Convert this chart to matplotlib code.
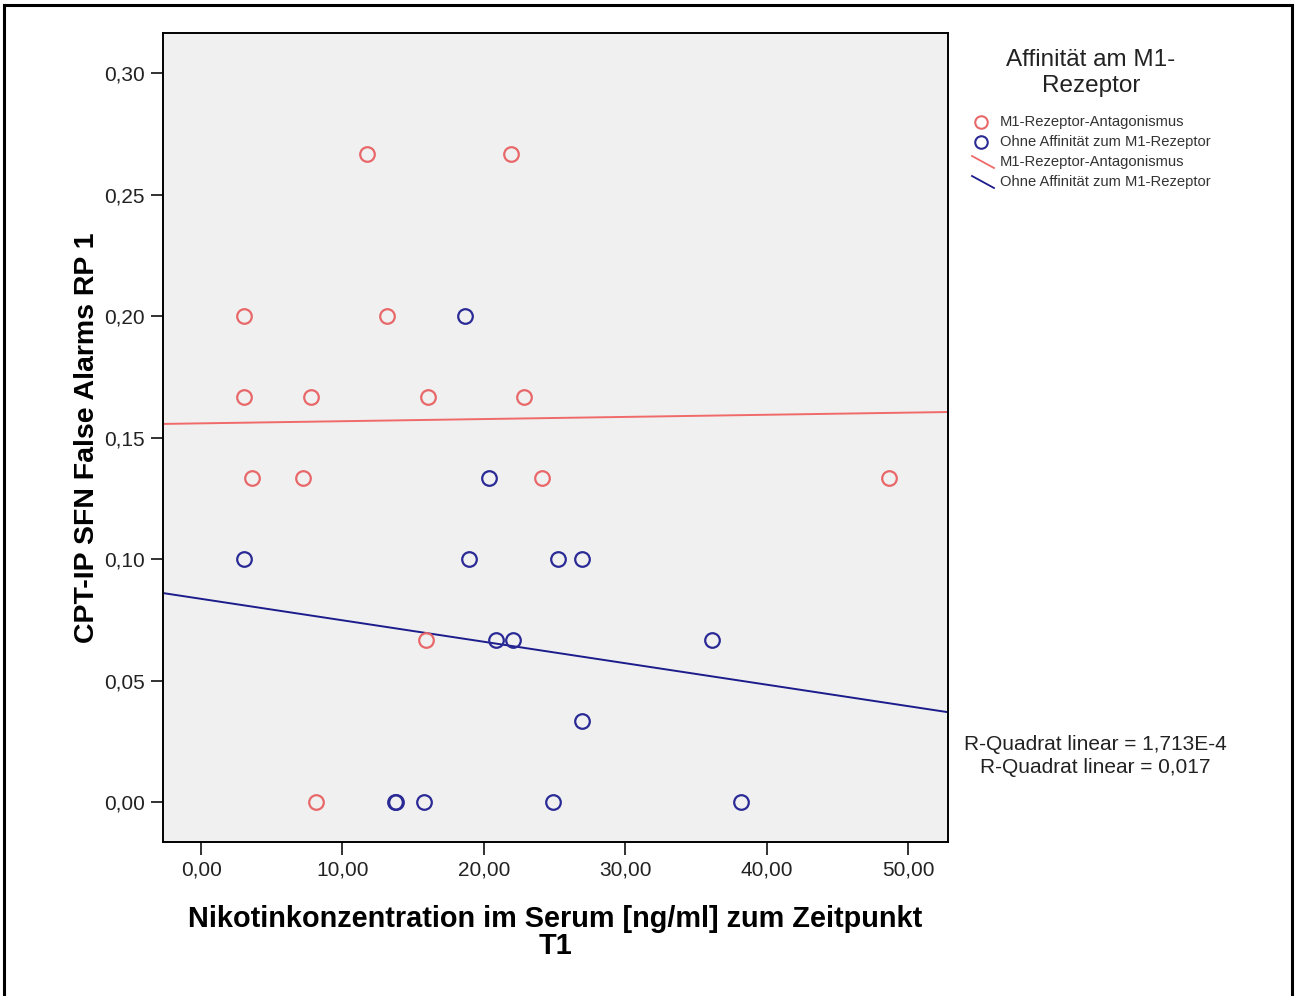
import numpy as np
import matplotlib
matplotlib.use('Agg')
import matplotlib.pyplot as plt
from matplotlib.lines import Line2D
from matplotlib.patches import Rectangle

plt.rcParams['font.family'] = ['Liberation Sans', 'DejaVu Sans']

# M1-Rezeptor-Antagonismus
red_x = [11.74, 21.92, 3.04, 13.15, 3.04, 7.78, 16.05, 22.84, 3.60, 7.21, 24.10, 48.66, 15.91, 8.13]
red_y = [0.2667, 0.2667, 0.2, 0.2, 0.1667, 0.1667, 0.1667, 0.1667, 0.1333, 0.1333, 0.1333, 0.1333, 0.0667, 0.0]
# Ohne Affinitaet zum M1-Rezeptor
blue_x = [18.67, 20.37, 3.04, 18.95, 25.25, 26.94, 20.86, 22.07, 36.14, 26.94, 13.72, 13.80, 15.77, 24.89, 38.19]
blue_y = [0.2, 0.1333, 0.1, 0.1, 0.1, 0.1, 0.0667, 0.0667, 0.0667, 0.0333, 0.0, 0.0, 0.0, 0.0, 0.0]

# fit lines (intercept, slope)
red_fit = (0.15584, 0.0000883)
blue_fit = (0.08362, -0.000883)

xticks = [0, 10, 20, 30, 40, 50]
yticks = [0.0, 0.05, 0.10, 0.15, 0.20, 0.25, 0.30]

red = '#e8686a'
blue = '#2a2a96'
red_line = '#f06a6a'
blue_line = '#1c1c8c'

fig = plt.figure(figsize=(12.97, 9.96), dpi=100)
ax = fig.add_axes([0.1257, 0.1546, 0.6052, 0.8123])
ax.set_facecolor('#f0f0f0')

xlim = (-2.69, 52.83)
ax.set_xlim(*xlim)
ax.set_ylim(-0.01646, 0.3165)

xs = np.array(xlim)
ax.plot(xs, red_fit[0] + red_fit[1] * xs, color=red_line, lw=1.4, zorder=2)
ax.plot(xs, blue_fit[0] + blue_fit[1] * xs, color=blue_line, lw=1.4, zorder=2)

ax.plot(red_x, red_y, 'o', mfc='none', mec=red, ms=10.5, mew=1.6, zorder=3)
ax.plot(blue_x, blue_y, 'o', mfc='none', mec=blue, ms=10.5, mew=1.6, zorder=3)

ax.set_xticks(xticks)
ax.set_xticklabels([('%.2f' % v).replace('.', ',') for v in xticks])
ax.set_yticks(yticks)
ax.set_yticklabels([('%.2f' % v).replace('.', ',') for v in yticks])
ax.tick_params(direction='out', length=9, width=1.3, labelsize=15, pad=4, colors='#222222')
for s in ax.spines.values():
    s.set_linewidth(1.4)

ax.set_xlabel('Nikotinkonzentration im Serum [ng/ml] zum Zeitpunkt\nT1',
              fontsize=20.8, fontweight='bold', labelpad=19, linespacing=0.93)
ax.set_ylabel('CPT-IP SFN False Alarms RP 1', fontsize=20.5, fontweight='bold', labelpad=3)

# legend
W, H = 1297.0, 996.0
def fx(px):
    return px / W
def fy(py):
    return 1 - py / H

fig.text(fx(1091), fy(60), 'Affinität am M1-', ha='center', va='center', fontsize=17.5, color='#222222')
fig.text(fx(1091), fy(86), 'Rezeptor', ha='center', va='center', fontsize=17.5, color='#222222')

entries = [('M1-Rezeptor-Antagonismus', red, 'marker'),
           ('Ohne Affinität zum M1-Rezeptor', blue, 'marker'),
           ('M1-Rezeptor-Antagonismus', red_line, 'line'),
           ('Ohne Affinität zum M1-Rezeptor', blue_line, 'line')]
for i, (label, col, kind) in enumerate(entries):
    y = 122 + 20 * i
    if kind == 'marker':
        fig.add_artist(Line2D([fx(981)], [fy(y)], marker='o', mfc='none', mec=col,
                              ms=9, mew=1.5, transform=fig.transFigure))
    else:
        fig.add_artist(Line2D([fx(972), fx(994)], [fy(y - 6), fy(y + 6)], color=col,
                              lw=1.3, transform=fig.transFigure))
    fig.text(fx(1000), fy(y), label, ha='left', va='center', fontsize=10.6,
             color='#333333')

fig.text(fx(1095), fy(745), 'R-Quadrat linear = 1,713E-4', ha='center', va='center',
         fontsize=15, color='#222222')
fig.text(fx(1095), fy(767), 'R-Quadrat linear = 0,017', ha='center', va='center',
         fontsize=15, color='#222222')

# outer frame
fig.add_artist(Rectangle((fx(4), -0.01), fx(1292) - fx(4), fy(5) + 0.01,
                         fill=False, ec='black', lw=2.2, transform=fig.transFigure))

fig.savefig('out.png', dpi=100)
